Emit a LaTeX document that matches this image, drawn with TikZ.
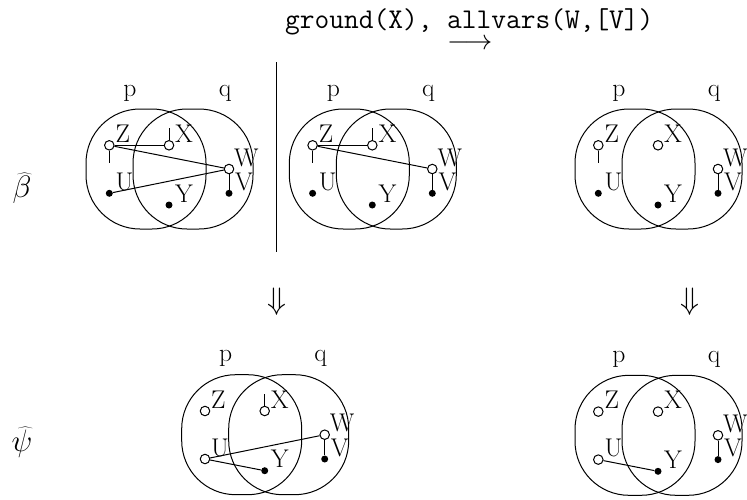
\RequirePackage{fix-cm}
\documentclass[tikz,border=0pt]{standalone}
\usetikzlibrary{calc}
\newcommand\lblfont{\fontsize{25.6}{28}\selectfont}
\newcommand\ttfnt{\fontsize{28.6}{32}\selectfont\ttfamily}
\newcommand\bigmath{\fontsize{31}{34}\selectfont}
\tikzset{
  setbox/.style={draw, rounded corners=54pt, minimum width=120pt, minimum height=120pt, inner sep=0pt, line width=1pt},
  ov/.style={circle, draw, fill=white, minimum size=9.5pt, inner sep=0pt, line width=1pt},
  fv/.style={circle, fill, minimum size=7pt, inner sep=0pt},
  lab/.style={inner sep=0pt, anchor=base west, font=\lblfont},
  setlab/.style={inner sep=0pt, font=\lblfont},
  conn/.style={line width=1pt},
}
% #1 prefix, #2 dx, #3 dy, #4 style of U
\newcommand\vdiag[4]{%
  \begin{scope}[shift={(#2,#3)}]
    \node[setbox] (#1p) at (146,169) {};
    \node[setbox] (#1q) at (193,169) {};
    \node[setlab] (#1pl) at (130,93) {p};
    \node[setlab] (#1ql) at (225,93) {q};
    \node[ov] (#1Z) at (109.3,145.3) {};
    \node[ov] (#1X) at (169,145.3) {};
    \node[ov] (#1W) at (229,169) {};
    \node[fv] (#1V) at (229,193.3) {};
    \node[#4] (#1U) at (109.3,193.3) {};
    \node[fv] (#1Y) at (169,205) {};
    \node[lab] (#1Zl) at (115.3,142.3) {Z};
    \node[lab] (#1Xl) at (175,142.3) {X};
    \node[lab] (#1Wl) at (234,166) {W};
    \node[lab] (#1Vl) at (235,190.3) {V};
    \node[lab] (#1Ul) at (115.3,190.3) {U};
    \node[lab] (#1Yl) at (175,202) {Y};
    \draw[conn] (#1W) -- (#1V);
  \end{scope}}
\begin{document}
\begin{tikzpicture}[x=1pt,y=-1pt]
\useasboundingbox (0,0) rectangle (747,499);
% title
\node[inner sep=0pt, anchor=base west] (title) at (285,28)
  {\ttfnt ground(X), \rlap{\raisebox{-21pt}{\fontsize{28}{30}\selectfont$\longrightarrow$}}allvars(W,[V])};
% row labels
\node[inner sep=0pt] (beta) at (22,188) {\bigmath$\widehat{\beta}$};
\node[inner sep=0pt] (psi) at (22,442) {\bigmath$\widehat{\psi}$};
% diagrams
\vdiag{a}{0}{0}{fv}
\vdiag{b}{203.3}{0}{fv}
\vdiag{c}{489}{0}{fv}
\vdiag{d}{95.7}{265.7}{ov}
\vdiag{e}{489}{266.3}{ov}
% diagram a
\draw[conn] (aZ) -- (aX);
\draw[conn] (aZ) -- (aW);
\draw[conn] (aU) -- (aW);
\draw[conn] (aZ.south) -- ++(0,12);
\draw[conn] (aX.north) -- ++(0,-12);
% diagram b
\draw[conn] (bZ) -- (bX);
\draw[conn] (bZ) -- (bW);
\draw[conn] (bZ.south) -- ++(0,12);
\draw[conn] (bX.north) -- ++(0,-12);
% diagram c
\draw[conn] (cZ.south) -- ++(0,12);
% diagram d
\draw[conn] (dU) -- (dW);
\draw[conn] (dU) -- (dY);
\draw[conn] (dX.north) -- ++(0,-12);
% diagram e
\draw[conn] (eU) -- (eY);
% separator
\coordinate (s1) at (276.7,62);
\coordinate (s2) at (276.7,252);
\draw[conn] (s1) -- (s2);
% implication arrows
\node[inner sep=0pt] (imp1) at (276.7,302) {\bigmath$\Downarrow$};
\node[inner sep=0pt] (imp2) at (690,302) {\bigmath$\Downarrow$};
\end{tikzpicture}
\end{document}
